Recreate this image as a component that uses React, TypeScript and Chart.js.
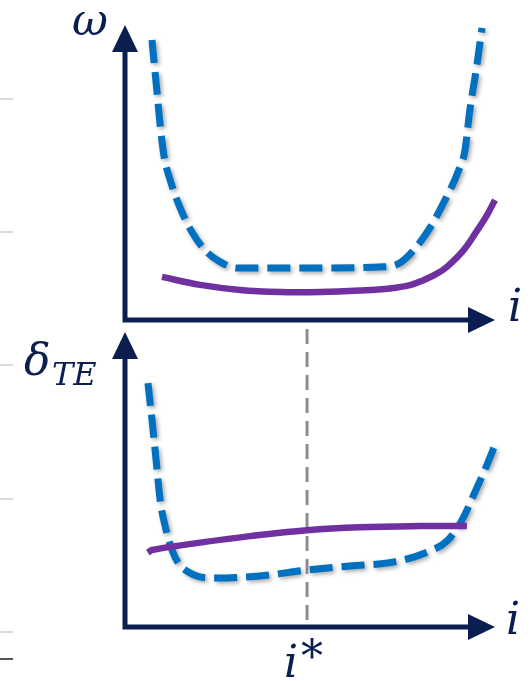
import { useEffect, useRef } from "react";
import { Chart, registerables } from "chart.js";

Chart.register(...registerables);

const NAVY = "#0a1f4f";
const BLUE = "#0070c0";
const PURPLE = "#7030a0";
const MARKER_GRAY = "#8c8c8c";
const SIDE_GRAY = "#dadada";
const SIDE_DARK = "#555555";

// Upper panel: ω against i
const omegaBlueI = [0.73, 0.78, 0.86, 0.95, 1.05, 1.22, 1.49, 1.81, 2.16, 2.57, 3.03, 4.73, 6.89, 7.38, 7.76, 8.24, 8.65, 9.0, 9.19, 9.32, 9.49, 9.65];
const omegaBlueV = [9.49, 8.81, 7.8, 6.61, 5.59, 4.75, 3.8, 2.98, 2.37, 1.97, 1.76, 1.76, 1.8, 1.9, 2.31, 3.12, 4.07, 5.02, 5.76, 7.12, 8.47, 9.9];
const omegaPurpleI = [1.0, 2.03, 3.11, 4.19, 5.27, 6.35, 7.16, 7.7, 8.05, 8.43, 8.7, 9.14, 9.51, 9.78, 10.0];
const omegaPurpleV = [1.46, 1.19, 1.02, 0.95, 0.95, 1.0, 1.07, 1.18, 1.34, 1.57, 1.8, 2.35, 3.02, 3.55, 4.07];

// Lower panel: δ_TE against i
const deltaBlueI = [0.62, 0.73, 0.84, 0.95, 1.11, 1.35, 1.76, 2.43, 3.65, 4.92, 6.08, 7.24, 8.11, 8.73, 9.11, 9.46, 9.78, 10.05];
const deltaBlueV = [8.27, 7.02, 5.66, 4.31, 3.29, 2.37, 1.83, 1.66, 1.73, 1.93, 2.07, 2.2, 2.51, 2.95, 3.63, 4.58, 5.49, 6.34];
const deltaPurpleI = [0.62, 0.73, 2.03, 3.38, 4.92, 6.35, 7.97, 9.24];
const deltaPurpleV = [2.52, 2.61, 2.86, 3.08, 3.28, 3.38, 3.42, 3.42];

// optimum index marked in the lower panel
const iStar = 4.92;

const I_MIN = 0;
const I_MAX = 10;
const V_MIN = 0;
const V_MAX = 10;

const SERIF = '"DejaVu Serif"';

function points(xs: number[], ys: number[]) {
  return xs.map((x, k) => ({ x, y: ys[k] }));
}

function curve(xs: number[], ys: number[], color: string, dashed: boolean) {
  return {
    data: points(xs, ys),
    borderColor: color,
    borderWidth: dashed ? 7 : 6.5,
    borderDash: dashed ? [23, 9] : [],
    borderCapStyle: "butt",
    borderJoinStyle: "round",
    pointRadius: 0,
    pointHoverRadius: 0,
    fill: false,
    tension: 0.4,
    cubicInterpolationMode: dashed ? "monotone" : "default",
    clip: false,
    shadow: dashed,
  };
}

function drawAxes(ctx: CanvasRenderingContext2D, area: any) {
  const { left, right, top, bottom } = area;
  ctx.save();
  ctx.strokeStyle = NAVY;
  ctx.fillStyle = NAVY;
  ctx.lineWidth = 5;
  ctx.lineJoin = "miter";
  ctx.lineCap = "butt";
  ctx.beginPath();
  ctx.moveTo(left, top + 22);
  ctx.lineTo(left, bottom);
  ctx.lineTo(right - 22, bottom);
  ctx.stroke();
  // arrow heads
  ctx.beginPath();
  ctx.moveTo(left, top);
  ctx.lineTo(left - 13, top + 27);
  ctx.lineTo(left + 13, top + 27);
  ctx.closePath();
  ctx.fill();
  ctx.beginPath();
  ctx.moveTo(right, bottom);
  ctx.lineTo(right - 27, bottom - 13);
  ctx.lineTo(right - 27, bottom + 13);
  ctx.closePath();
  ctx.fill();
  ctx.restore();
}

function sideTick(ctx: CanvasRenderingContext2D, y: number, color: string) {
  ctx.save();
  ctx.strokeStyle = color;
  ctx.lineWidth = 2;
  ctx.beginPath();
  ctx.moveTo(0, y);
  ctx.lineTo(13, y);
  ctx.stroke();
  ctx.restore();
}

const shadowPlugin = {
  id: "dashShadow",
  beforeDatasetDraw(chart: any, args: any) {
    const ds = chart.data.datasets[args.index];
    const ctx = chart.ctx;
    ctx.save();
    if (ds.shadow) {
      ctx.shadowColor = "rgba(0,0,0,0.35)";
      ctx.shadowBlur = 4;
      ctx.shadowOffsetX = 2;
      ctx.shadowOffsetY = 2;
    }
  },
  afterDatasetDraw(chart: any) {
    chart.ctx.restore();
  },
};

function makeOptions(padding: any) {
  return {
    responsive: false,
    maintainAspectRatio: false,
    animation: false,
    devicePixelRatio: 1,
    events: [],
    layout: { padding },
    plugins: { legend: { display: false }, title: { display: false }, tooltip: { enabled: false } },
    scales: {
      x: { type: "linear", min: I_MIN, max: I_MAX, display: false },
      y: { type: "linear", min: V_MIN, max: V_MAX, display: false },
    },
  };
}

export default function App() {
  const topRef = useRef<HTMLCanvasElement>(null);
  const botRef = useRef<HTMLCanvasElement>(null);

  useEffect(() => {
    document.body.style.margin = "0";
    const topChart = new Chart(topRef.current as HTMLCanvasElement, {
      type: "line",
      data: {
        datasets: [
          curve(omegaPurpleI, omegaPurpleV, PURPLE, false),
          curve(omegaBlueI, omegaBlueV, BLUE, true),
        ] as any,
      },
      options: makeOptions({ left: 125, right: 35, top: 25, bottom: 20 }) as any,
      plugins: [
        shadowPlugin,
        {
          id: "omegaDecor",
          afterDraw(chart: any) {
            const ctx = chart.ctx;
            sideTick(ctx, 99, SIDE_GRAY);
            sideTick(ctx, 232, SIDE_GRAY);
            drawAxes(ctx, chart.chartArea);
            ctx.save();
            ctx.fillStyle = NAVY;
            ctx.textAlign = "left";
            ctx.textBaseline = "alphabetic";
            ctx.font = `italic 44px ${SERIF}`;
            ctx.fillText("ω", 72, 35);
            ctx.fillText("i", 508, 321);
            ctx.restore();
          },
        },
      ],
    });

    const botChart = new Chart(botRef.current as HTMLCanvasElement, {
      type: "line",
      data: {
        datasets: [
          curve(deltaPurpleI, deltaPurpleV, PURPLE, false),
          curve(deltaBlueI, deltaBlueV, BLUE, true),
        ] as any,
      },
      options: makeOptions({ left: 125, right: 35, top: 12, bottom: 54 }) as any,
      plugins: [
        shadowPlugin,
        {
          id: "deltaMarker",
          beforeDatasetsDraw(chart: any) {
            const ctx = chart.ctx;
            const x = chart.scales.x.getPixelForValue(iStar);
            ctx.save();
            ctx.strokeStyle = MARKER_GRAY;
            ctx.lineWidth = 3;
            ctx.setLineDash([15, 8]);
            ctx.beginPath();
            ctx.moveTo(x, 9);
            ctx.lineTo(x, chart.chartArea.bottom);
            ctx.stroke();
            ctx.restore();
          },
        },
        {
          id: "deltaDecor",
          afterDraw(chart: any) {
            const ctx = chart.ctx;
            sideTick(ctx, 45, SIDE_GRAY);
            sideTick(ctx, 179, SIDE_GRAY);
            sideTick(ctx, 312, SIDE_GRAY);
            sideTick(ctx, 339, SIDE_DARK);
            drawAxes(ctx, chart.chartArea);
            const x = chart.scales.x.getPixelForValue(iStar);
            ctx.save();
            ctx.fillStyle = NAVY;
            ctx.textAlign = "left";
            ctx.textBaseline = "alphabetic";
            ctx.font = `italic 44px ${SERIF}`;
            ctx.fillText("δ", 24, 55);
            ctx.fillText("i", 506, 314);
            ctx.fillText("i", x - 23, 357);
            ctx.font = `italic 32px ${SERIF}`;
            ctx.fillText("TE", 52, 65);
            ctx.font = `44px ${SERIF}`;
            ctx.fillText("*", x - 6, 352);
            ctx.restore();
          },
        },
      ],
    });

    return () => {
      topChart.destroy();
      botChart.destroy();
    };
  }, []);

  return (
    <div style={{ position: "relative", width: 530, height: 681, background: "#ffffff", overflow: "hidden" }}>
      <canvas
        ref={topRef}
        width={530}
        height={340}
        style={{ position: "absolute", left: 0, top: 0, width: 530, height: 340 }}
      />
      <canvas
        ref={botRef}
        width={530}
        height={361}
        style={{ position: "absolute", left: 0, top: 320, width: 530, height: 361 }}
      />
    </div>
  );
}
